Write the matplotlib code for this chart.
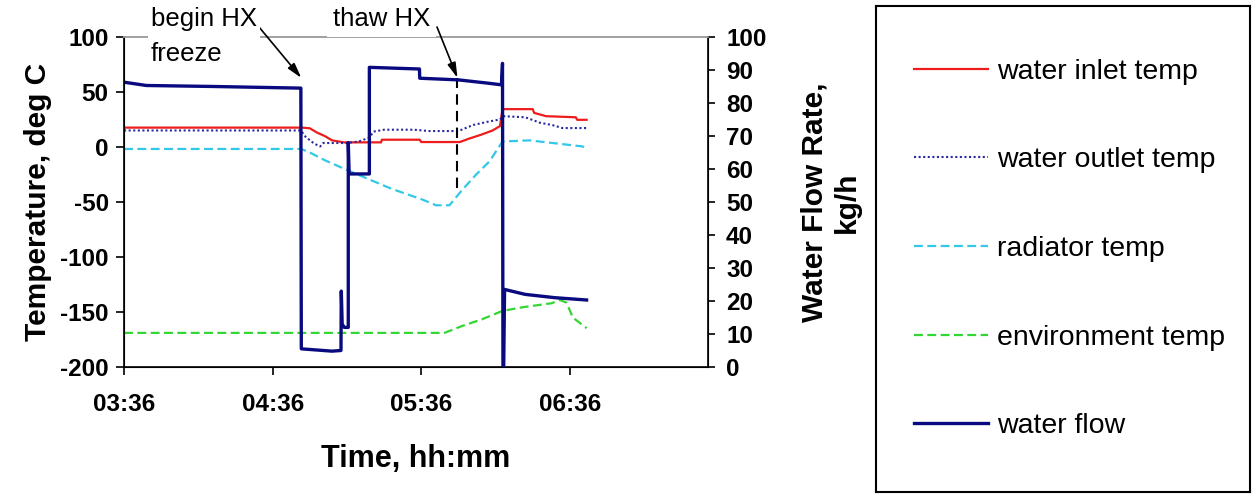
import matplotlib
matplotlib.use('Agg')
import matplotlib.pyplot as plt

plt.rcParams['font.family'] = ['Liberation Sans', 'DejaVu Sans']
plt.rcParams['axes.unicode_minus'] = False

# time in decimal hours (03:36 = 3.6)
t_inlet = [3.600, 4.800, 4.850, 4.900, 4.950, 5.000, 5.080, 5.330, 5.335, 5.590, 5.600,
           5.860, 5.920, 6.000, 6.080, 6.130, 6.147, 6.350, 6.360, 6.440, 6.640, 6.650, 6.713]
inlet = [17.6, 17.6, 17.0, 13.0, 10.0, 6.0, 4.2, 4.2, 6.6, 6.6, 4.5,
         4.5, 7.5, 11.0, 15.0, 19.0, 34.4, 34.4, 31.0, 28.0, 27.0, 24.7, 24.7]

t_outlet = [3.600, 4.790, 4.820, 4.880, 4.920, 4.940, 5.100, 5.180, 5.250, 5.280, 5.350,
            5.550, 5.650, 5.850, 5.950, 6.050, 6.130, 6.150, 6.300, 6.400, 6.480, 6.550, 6.713]
outlet = [15.0, 15.0, 9.5, 3.0, 0.5, 3.6, 3.6, 5.0, 8.5, 14.0, 15.7,
          15.7, 14.5, 14.5, 20.0, 23.0, 25.0, 28.0, 27.0, 22.0, 20.0, 17.2, 17.2]

t_rad = [3.600, 4.793, 4.850, 4.950, 5.136, 5.400, 5.608, 5.700, 5.790, 5.878,
         5.970, 6.060, 6.147, 6.330, 6.686, 6.713]
radiator = [-1.8, -1.8, -5.0, -12.0, -23.0, -38.0, -47.8, -53.0, -53.0, -38.7,
            -25.0, -13.0, 5.0, 6.0, 0.5, -1.8]

t_env = [3.600, 5.756, 5.878, 6.010, 6.147, 6.282, 6.480, 6.531, 6.578, 6.620, 6.713]
environment = [-169.0, -169.0, -162.6, -156.6, -149.0, -145.7, -142.0, -139.0, -141.5, -155.0, -164.7]

t_flow = [3.600, 3.750, 4.200, 4.790, 4.793, 5.000, 5.060, 5.062, 5.068, 5.082, 5.109,
          5.109, 5.115, 5.251, 5.251, 5.450, 5.588, 5.590, 5.850, 6.050, 6.140, 6.147,
          6.150, 6.155, 6.161, 6.300, 6.500, 6.713]
flow = [86.3, 85.3, 85.0, 84.5, 5.5, 4.8, 5.0, 23.0, 13.0, 12.0, 12.0,
        68.0, 58.5, 58.5, 90.8, 90.5, 90.3, 87.5, 87.0, 86.0, 85.5, 92.0,
        0.0, 0.0, 23.5, 22.0, 21.0, 20.3]

x_ticks = [3.6, 4.6, 5.6, 6.6]
x_labels = ['03:36', '04:36', '05:36', '06:36']

t_freeze, t_thaw = 4.793, 5.844

fig = plt.figure(figsize=(12.58, 4.95), dpi=100)
ax = fig.add_axes([0.0986, 0.2586, 0.4642, 0.6667])
ax2 = ax.twinx()

l1, = ax.plot(t_inlet, inlet, color='#ee1c1c', lw=1.6, label='water inlet temp')
l2, = ax.plot(t_outlet, outlet, color='#2a2aa0', lw=1.5, ls=(0, (1, 1.2)), label='water outlet temp')
l3, = ax.plot(t_rad, radiator, color='#33c8e8', lw=1.6, ls=(0, (4, 2)), label='radiator temp')
l4, = ax.plot(t_env, environment, color='#33d633', lw=1.6, ls=(0, (4, 2)), label='environment temp')
l5, = ax2.plot(t_flow, flow, color='#0a0a80', lw=2.4, label='water flow')

ax.vlines(t_thaw, -37, 63, colors='black', linestyles=(0, (5, 3)), lw=1.5)

ax.set_xlim(3.6, 7.53)
ax.set_ylim(-200, 100)
ax2.set_ylim(0, 100)
ax.set_yticks(range(-200, 101, 50))
ax2.set_yticks(range(0, 101, 10))
ax.set_xticks(x_ticks)
ax.set_xticklabels(x_labels)

for a in (ax, ax2):
    a.spines['top'].set_color('#a0a0a0')
    a.spines['top'].set_linewidth(1.2)
ax.spines['left'].set_linewidth(1.2)
ax.spines['bottom'].set_linewidth(1.2)
ax2.spines['right'].set_linewidth(1.2)
ax.tick_params(axis='y', labelsize=17.5, length=6, width=1.2, pad=5)
ax.tick_params(axis='x', labelsize=17.5, length=6, width=1.2, pad=13)
ax2.tick_params(axis='y', labelsize=17.5, length=5, width=1.2, pad=8)
for lab in ax.get_yticklabels() + ax.get_xticklabels() + ax2.get_yticklabels():
    lab.set_fontweight('bold')

ax.set_xlabel('Time, hh:mm', fontsize=22, fontweight='bold', labelpad=20)
ax.set_ylabel('Temperature, deg C', fontsize=21.5, fontweight='bold', labelpad=6)
ax2.set_ylabel('Water Flow Rate,\nkg/h', fontsize=21.5, fontweight='bold', labelpad=46,
               rotation=90, va='center', multialignment='center')

# annotations
fig.text(151 / 1258, 1 - 7 / 495, 'begin HX\nfreeze', fontsize=18.5, ha='left', va='top',
         linespacing=1.6, bbox=dict(facecolor='white', edgecolor='none', pad=2))
fig.text(333 / 1258, 1 - 7 / 495, 'thaw HX', fontsize=18.5, ha='left', va='top',
         bbox=dict(facecolor='white', edgecolor='none', pad=4))
arrow = dict(arrowstyle='-|>,head_length=0.9,head_width=0.25', color='black', lw=1.2,
             shrinkA=0, shrinkB=0)
ax2.annotate('', xy=(t_freeze, 87.6), xytext=(259, 468), textcoords='figure pixels',
             arrowprops=arrow, annotation_clip=False)
ax2.annotate('', xy=(t_thaw, 87.6), xytext=(437, 468), textcoords='figure pixels',
             arrowprops=arrow, annotation_clip=False)

# legend box
lax = fig.add_axes([876 / 1258, 3 / 495, 374 / 1258, 486 / 495])
lax.set_xticks([])
lax.set_yticks([])
for s in lax.spines.values():
    s.set_linewidth(1.5)
    s.set_color('black')
lax.legend([l1, l2, l3, l4, l5], [l.get_label() for l in (l1, l2, l3, l4, l5)],
           loc='center left', bbox_to_anchor=(0, 0.5), frameon=False, fontsize=20.5,
           handlelength=2.6, handletextpad=0.3, labelspacing=2.2,
           borderaxespad=0, borderpad=1.35)

fig.savefig('out.png', dpi=100)
